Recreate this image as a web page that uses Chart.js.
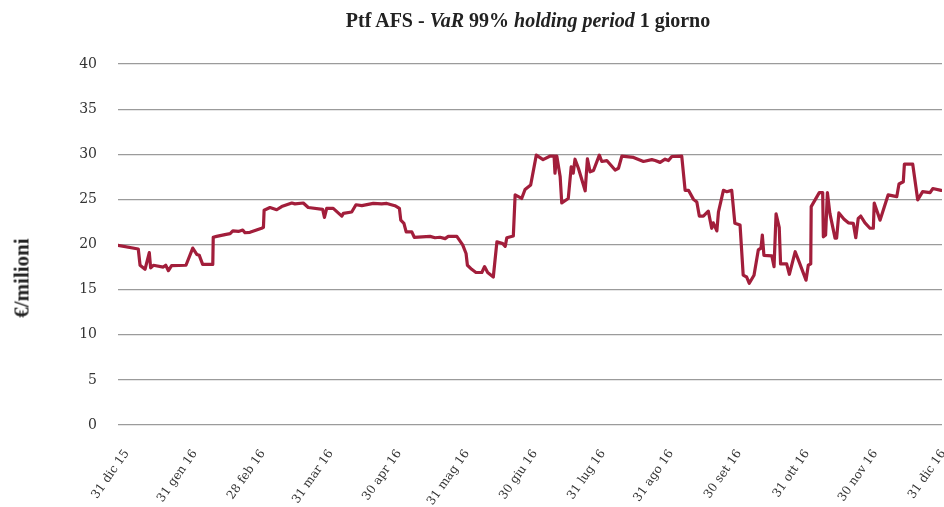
<!DOCTYPE html>
<html>
<head>
<meta charset="utf-8">
<script src="https://cdn.jsdelivr.net/npm/chart.js@4/dist/chart.umd.min.js"></script>
<style>
  html, body { margin: 0; padding: 0; background: #fff; }
  #wrap { position: relative; width: 944px; height: 507px; }
  #title { position: absolute; left: 118px; width: 820px; top: 9px; text-align: center;
           font-family: 'Liberation Serif', serif; font-weight: bold; font-size: 20px; color: #222; }
  #ytitle { position: absolute; left: 22px; top: 278px; transform: translate(-50%, -50%) rotate(-90deg);
            font-family: 'Liberation Serif', serif; font-weight: bold; font-size: 21px; color: #222; white-space: nowrap; }
  canvas { position: absolute; left: 0; top: 0; }
</style>
</head>
<body>
<div id="wrap">
  <canvas id="c" width="944" height="507"></canvas>
  <div id="title">Ptf AFS - <i>VaR</i> 99% <i>holding period</i> 1 giorno</div>
  <div id="ytitle">€/milioni</div>
</div>
<script>
// x = days elapsed since 31 dic 15
const tickLabels = ['31 dic 15', '31 gen 16', '28 feb 16', '31 mar 16', '30 apr 16', '31 mag 16',
  '30 giu 16', '31 lug 16', '31 ago 16', '30 set 16', '31 ott 16', '30 nov 16', '31 dic 16'];
const yTicks = [0, 5, 10, 15, 20, 25, 30, 35, 40];
// month labels are evenly spaced along the axis in the original chart
const tickDays = tickLabels.map((_, i) => 0.8 + i * 30.22);

const days = [
  0, 9, 9.8, 12, 13.9, 14.5, 15.7, 20.1, 21.2, 22.4, 23.8, 30.2, 33.2, 35, 36.1, 37.6, 42.1, 42.3, 43.8, 47.5,
  49.8, 51, 53.5, 55.4, 56.4, 58.6, 63.8, 64.6, 64.9, 67.5, 70.5, 72.7, 77.2, 78.6, 82.3, 84.5, 90.9, 91.7, 92.7, 95.6,
  99.4, 100.1, 103.8, 105.7, 108.3, 113.4, 117.1, 119.4, 123, 125, 125.6, 127, 128, 130.5, 131.6, 138.6, 140.8, 143, 145.3, 146.7,
  150.5, 153.1, 154.6, 155.2, 157.1, 159, 161.6, 162.8, 164.2, 166.7, 168.3, 170.9, 172, 172.7, 175.6, 176.4, 179.3, 180.8, 183.3, 185.8,
  188.8, 192, 193.7, 194.1, 194.9, 196.4, 197.1, 200, 201.3, 202.2, 203, 204.5, 207.5, 208.5, 209.7, 211.2, 213.8, 214.9, 217.1, 220.8,
  222.3, 223.8, 229, 233.4, 237.1, 238.6, 240.8, 243, 244.5, 246, 250.4, 251.9, 253.4, 255.6, 257.1, 258.2, 260, 262.2, 263.7, 264.4,
  266, 266.7, 268.9, 270.4, 272.6, 274, 276.3, 277.7, 279.2, 280.4, 282.5, 284.4, 285.6, 286.2, 286.9, 290.4, 291.4, 292.3, 293.7, 294.3,
  297, 298.2, 300.8, 302.2, 305.6, 306.6, 307.7, 307.9, 311.5, 313, 313.3, 314.3, 315.1, 316.2, 318.5, 319.2, 320.2, 322.5, 324.4, 326.6,
  327.7, 328.8, 329.9, 331.8, 334, 335.5, 335.9, 338.5, 339.9, 342.1, 345.9, 346.9, 348.8, 349.3, 353, 355.2, 357.4, 360.7, 361.9, 365.6
];
const values = [
  19.9, 19.5, 17.7, 17.25, 19.1, 17.4, 17.7, 17.5, 17.7, 17.1, 17.65, 17.7, 19.6, 18.9, 18.8, 17.8, 17.8, 20.8, 20.9, 21.1,
  21.2, 21.5, 21.45, 21.6, 21.3, 21.35, 21.8, 21.9, 23.8, 24.1, 23.85, 24.2, 24.6, 24.5, 24.6, 24.1, 23.9, 23.0, 24.0, 24.0,
  23.15, 23.45, 23.6, 24.4, 24.3, 24.55, 24.5, 24.55, 24.3, 24.0, 22.7, 22.35, 21.4, 21.4, 20.8, 20.9, 20.75, 20.8, 20.65, 20.9,
  20.9, 19.95, 19.0, 17.7, 17.25, 16.9, 16.9, 17.55, 16.9, 16.4, 20.3, 20.1, 19.8, 20.75, 20.95, 25.5, 25.1, 26.1, 26.6, 29.9,
  29.4, 29.8, 29.8, 27.9, 29.8, 27.5, 24.6, 25.1, 28.6, 27.9, 29.45, 28.45, 25.95, 29.5, 28.05, 28.2, 29.9, 29.2, 29.3, 28.25,
  28.45, 29.8, 29.65, 29.2, 29.4, 29.3, 29.1, 29.45, 29.3, 29.75, 29.8, 26.0, 26.0, 25.0, 24.7, 23.15, 23.15, 23.7, 21.8, 22.4,
  21.5, 23.6, 26.0, 25.85, 26.0, 22.35, 22.15, 16.6, 16.4, 15.7, 16.6, 19.4, 19.6, 21.05, 18.8, 18.75, 17.55, 23.4, 21.9, 17.85,
  17.85, 16.7, 19.2, 18.3, 16.05, 17.7, 17.85, 24.2, 25.75, 25.75, 20.85, 21.05, 25.75, 23.45, 20.7, 20.7, 23.5, 22.8, 22.4, 22.35,
  20.75, 22.9, 23.15, 22.4, 21.8, 21.8, 24.6, 22.7, 23.8, 25.5, 25.3, 26.7, 26.95, 28.9, 28.9, 24.95, 25.85, 25.75, 26.2, 26.0
];

const points = days.map((d, i) => ({ x: d, y: values[i] }));

new Chart(document.getElementById('c'), {
  type: 'line',
  data: {
    datasets: [{
      data: points,
      borderColor: '#a21e3b',
      borderWidth: 3.2,
      pointRadius: 0,
      tension: 0,
      fill: false,
      borderJoinStyle: 'round',
      borderCapStyle: 'round'
    }]
  },
  options: {
    responsive: false,
    animation: false,
    layout: { padding: { top: 64, right: 2, left: 0, bottom: 0 } },
    plugins: { legend: { display: false }, tooltip: { enabled: false }, title: { display: false } },
    scales: {
      x: {
        type: 'linear',
        min: 0,
        max: 366,
        afterBuildTicks: (scale) => { scale.ticks = tickDays.map(v => ({ value: v })); },
        afterFit: (scale) => { scale.height = 82; scale.paddingRight = 0; scale.paddingLeft = 0; },
        grid: { display: false },
        border: { display: false },
        ticks: {
          autoSkip: false,
          minRotation: 55,
          maxRotation: 55,
          labelOffset: 7,
          padding: 14,
          color: '#333',
          font: { family: 'DejaVu Serif', size: 12 },
          callback: (v, i) => tickLabels[i]
        }
      },
      y: {
        min: 0,
        max: 40,
        afterBuildTicks: (scale) => { scale.ticks = yTicks.map(v => ({ value: v })); },
        afterFit: (scale) => { scale.width = 118; },
        grid: { color: '#9b9b9b', lineWidth: 1.2, drawTicks: false },
        border: { display: false },
        ticks: {
          padding: 21,
          color: '#333',
          font: { family: 'DejaVu Serif', size: 14 }
        }
      }
    }
  }
});
</script>
</body>
</html>
